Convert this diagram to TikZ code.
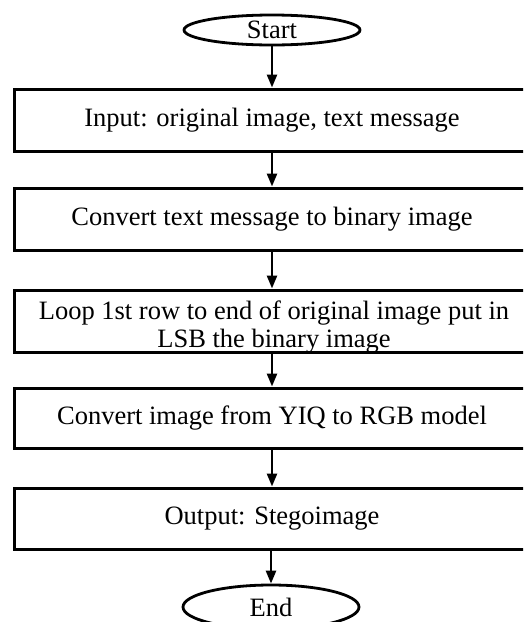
\documentclass[tikz,border=0pt]{standalone}
\usepackage{fontspec}
\setmainfont{Liberation Serif}
\usetikzlibrary{shapes.geometric,arrows.meta}
\begin{document}
\begin{tikzpicture}[x=1pt,y=-1pt,
  every node/.style={font=\fontsize{26.5}{28}\selectfont, inner sep=0pt},
  procbox/.style={draw, line width=3pt, rectangle, minimum width=516pt, align=center},
  term/.style={draw, line width=2.8pt, ellipse, minimum width=176pt},
  flow/.style={line width=2.6pt, -{Triangle[length=13pt,width=10pt]}}]
\useasboundingbox (0,0) rectangle (523,622);
\clip (0,0) rectangle (523,622);
\node[term, minimum height=30pt] (start) at (272,30) {Start};
\node[procbox, minimum height=62pt] (in) at (272,120) {Input: original image, text message};
\node[procbox, minimum height=62pt] (conv) at (272,219) {Convert text message to binary image};
\node[procbox, minimum height=62pt] (loop) at (272,321) {};
\node[name=looptxt, align=center, font=\fontsize{26.5}{28}\selectfont] at (274,327) {Loop 1st row to end of original image put in\\LSB the binary image};
\node[procbox, minimum height=60pt] (yiq) at (272,418) {Convert image from YIQ to RGB model};
\node[procbox, minimum height=61pt] (out) at (272,518.5) {Output: Stegoimage};
\node[term, minimum height=44pt] (end) at (271,607) {End};
\draw[flow] (start) -- (in);
\draw[flow] (in) -- (conv);
\draw[flow] (conv) -- (loop);
\draw[flow] (loop) -- (yiq);
\draw[flow] (yiq) -- (out);
\draw[flow] (out.south -| end.north) -- (end);
\end{tikzpicture}
\end{document}
